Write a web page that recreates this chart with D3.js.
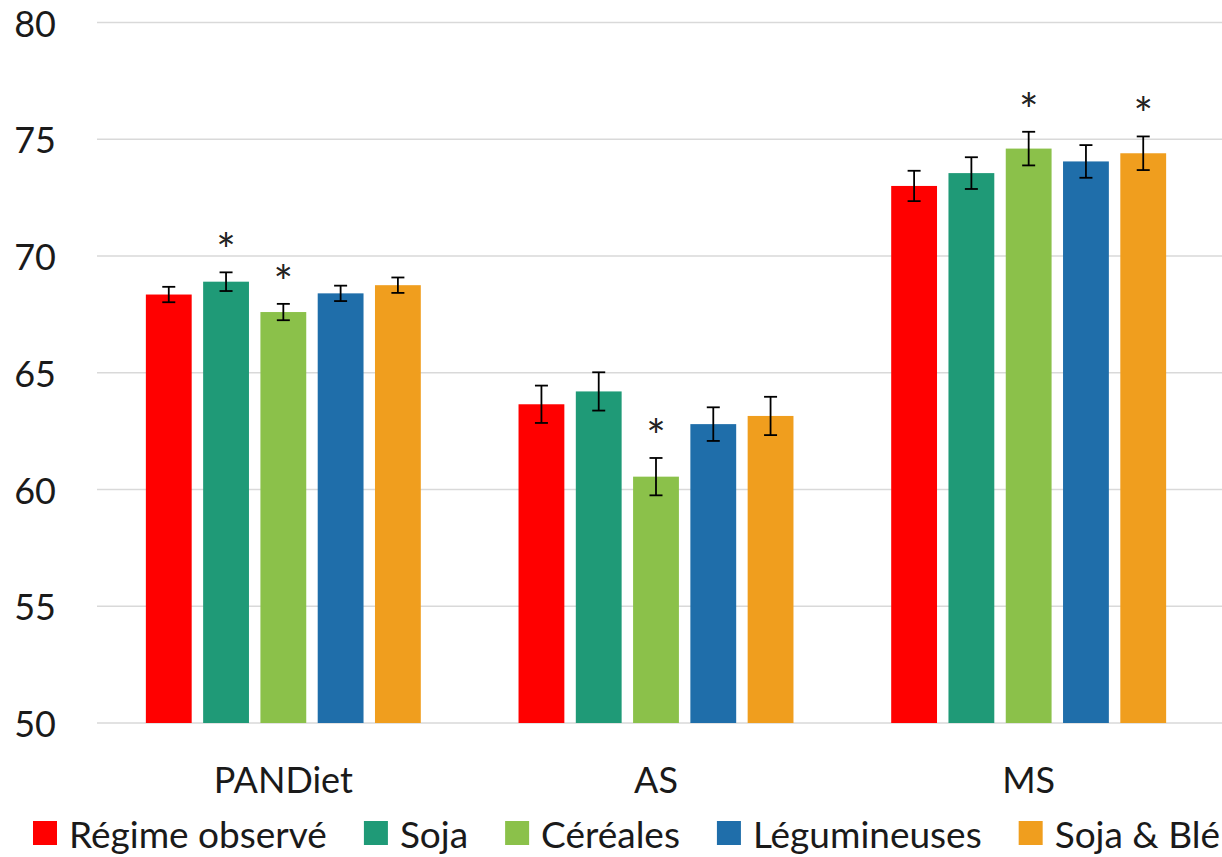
<!DOCTYPE html>
<html>
<head>
<meta charset="utf-8">
<script src="https://cdn.jsdelivr.net/npm/d3@7"></script>
<style>
  html, body { margin: 0; padding: 0; background: #fff; }
  svg { display: block; font-family: Lato, "Carlito", "Liberation Sans", sans-serif; }
</style>
</head>
<body>
<svg id="chart" width="1222" height="857"></svg>
<script>
// ---- data ----
const groups = ["PANDiet", "AS", "MS"];
const seriesNames = ["Régime observé", "Soja", "Céréales", "Légumineuses", "Soja & Blé"];
const seriesColors = ["#FF0000", "#1F9A77", "#8BC14A", "#1F6EAA", "#F09E1E"];
const valuesPANDiet = [68.35, 68.90, 67.60, 68.40, 68.75];
const valuesAS      = [63.65, 64.20, 60.55, 62.80, 63.15];
const valuesMS      = [73.00, 73.55, 74.60, 74.05, 74.40];
const errorsPANDiet = [0.33, 0.40, 0.35, 0.33, 0.33];
const errorsAS      = [0.80, 0.82, 0.80, 0.72, 0.82];
const errorsMS      = [0.65, 0.68, 0.72, 0.70, 0.72];
const starsPANDiet  = [false, true, true, false, false];
const starsAS       = [false, false, true, false, false];
const starsMS       = [false, false, true, false, true];
const yTicks = [50, 55, 60, 65, 70, 75, 80];

const valueRows = [valuesPANDiet, valuesAS, valuesMS];
const errorRows = [errorsPANDiet, errorsAS, errorsMS];
const starRows  = [starsPANDiet, starsAS, starsMS];

const data = [];
groups.forEach((g, gi) => {
  seriesNames.forEach((s, si) => {
    data.push({ group: g, series: s, color: seriesColors[si],
      value: valueRows[gi][si], err: errorRows[gi][si], star: starRows[gi][si] });
  });
});

// ---- layout ----
const svg = d3.select("#chart");
const plotLeft = 97, plotRight = 1215;
const y = d3.scaleLinear().domain([50, 80]).range([723, 22.5]);
const x0 = d3.scaleBand().domain(groups).range([plotLeft, plotRight]).paddingInner(0).paddingOuter(0);
const x1 = d3.scaleBand().domain(seriesNames).range([0, x0.bandwidth()])
  .paddingInner(0.2).paddingOuter(0.853);

// gridlines
svg.append("g").selectAll("line").data(yTicks).join("line")
  .attr("x1", plotLeft).attr("x2", 1222)
  .attr("y1", d => y(d)).attr("y2", d => y(d))
  .attr("stroke", "#d9d9d9").attr("stroke-width", 1.5);

// y tick labels
svg.append("g").selectAll("text").data(yTicks).join("text")
  .attr("x", 56).attr("y", d => y(d))
  .attr("text-anchor", "end").attr("dominant-baseline", "central")
  .attr("font-size", 36).attr("fill", "#1a1a1a")
  .text(d => d);

// bars
const bx = d => x0(d.group) + x1(d.series);
svg.append("g").selectAll("rect").data(data).join("rect")
  .attr("x", bx).attr("width", x1.bandwidth())
  .attr("y", d => y(d.value)).attr("height", d => y(50) - y(d.value))
  .attr("fill", d => d.color);

// error bars
const cx = d => bx(d) + x1.bandwidth() / 2;
const eb = svg.append("g").attr("stroke", "#000").attr("stroke-width", 1.8);
eb.selectAll("line.v").data(data).join("line").attr("class", "v")
  .attr("x1", cx).attr("x2", cx)
  .attr("y1", d => y(d.value + d.err)).attr("y2", d => y(d.value - d.err));
eb.selectAll("line.t").data(data).join("line").attr("class", "t")
  .attr("x1", d => cx(d) - 6.5).attr("x2", d => cx(d) + 6.5)
  .attr("y1", d => y(d.value + d.err)).attr("y2", d => y(d.value + d.err));
eb.selectAll("line.b").data(data).join("line").attr("class", "b")
  .attr("x1", d => cx(d) - 6.5).attr("x2", d => cx(d) + 6.5)
  .attr("y1", d => y(d.value - d.err)).attr("y2", d => y(d.value - d.err));

// significance stars
svg.append("g").selectAll("text").data(data.filter(d => d.star)).join("text")
  .attr("x", cx).attr("y", d => y(d.value + d.err) - 29 + 24)
  .attr("text-anchor", "middle").attr("font-size", 46).attr("fill", "#222")
  .text("*");

// category labels
svg.append("g").selectAll("text").data(groups).join("text")
  .attr("x", d => x0(d) + x0.bandwidth() / 2).attr("y", 779)
  .attr("text-anchor", "middle").attr("dominant-baseline", "central")
  .attr("font-size", 36).attr("fill", "#1a1a1a")
  .text(d => d);

// legend
const legend = svg.append("g");
const items = seriesNames.map((s, i) => {
  const r = legend.append("rect").attr("y", 821).attr("width", 24).attr("height", 24)
    .attr("fill", seriesColors[i]);
  const t = legend.append("text").attr("y", 833)
    .attr("dominant-baseline", "central").attr("font-size", 37).attr("fill", "#1a1a1a")
    .text(s);
  return { r, t, w: t.node().getComputedTextLength() };
});
const legStart = 33, legEnd = 1220, sqGap = 12;
const totalW = d3.sum(items, d => 24 + sqGap + d.w);
const itemGap = (legEnd - legStart - totalW) / (items.length - 1);
let lx = legStart;
items.forEach(it => {
  it.r.attr("x", lx);
  it.t.attr("x", lx + 24 + sqGap);
  lx += 24 + sqGap + it.w + itemGap;
});
</script>
</body>
</html>
